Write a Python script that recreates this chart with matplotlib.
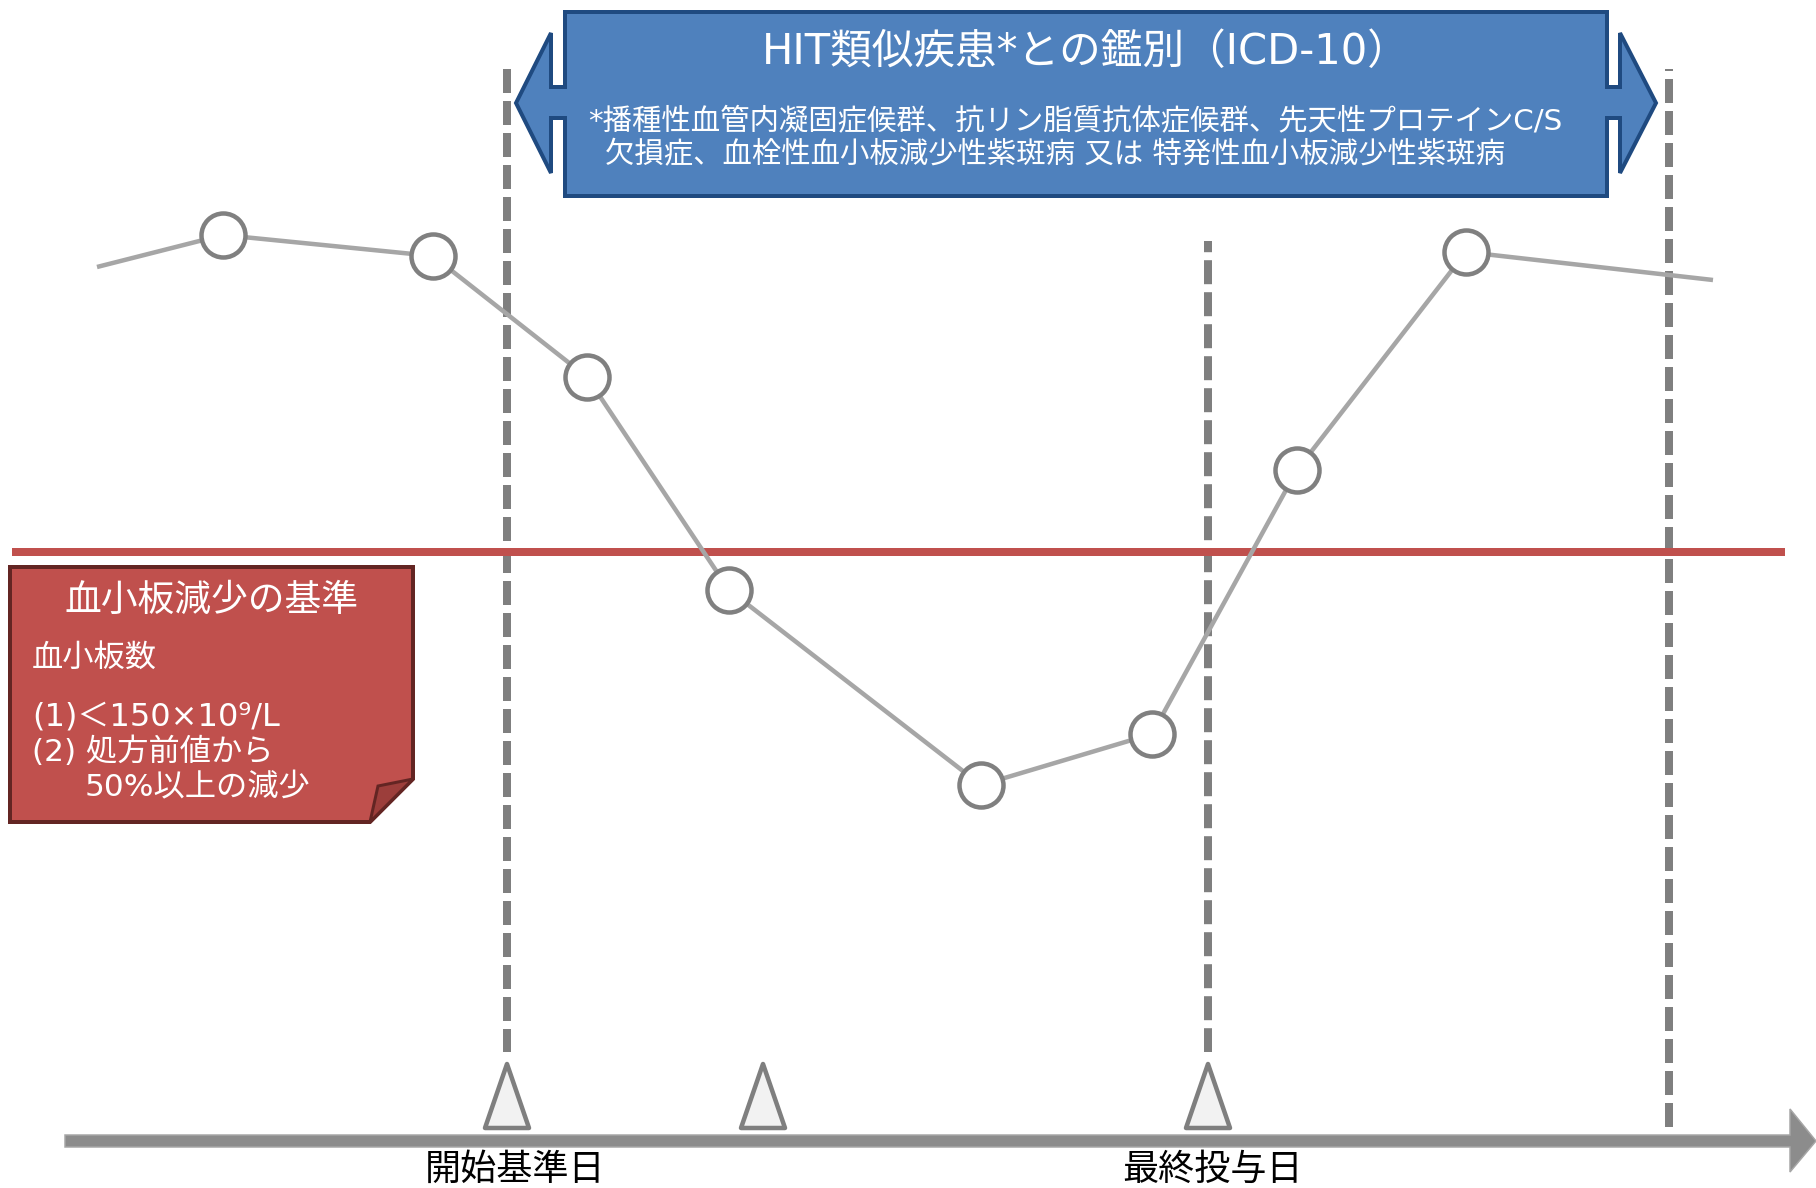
import matplotlib.pyplot as plt
from matplotlib.patches import Polygon

# Latin glyphs from DejaVu (wide, like the original), Japanese from Noto CJK
plt.rcParams['font.family'] = ['DejaVu Sans', 'Noto Sans CJK JP']

# canvas in pixel units (1816 x 1188), y downwards
W, H = 1816, 1188

# platelet course (x = time, y = level on the canvas)
line_x = [97, 223, 433, 587, 729, 981, 1152, 1297, 1466, 1713]
line_y = [267, 235, 256, 377, 590, 785, 734, 470, 252, 280]
marker_idx = [1, 2, 3, 4, 5, 6, 7, 8]

threshold_y = 552
threshold_x = [12, 1785]

# vertical dashed guides: x, top, bottom
guide_x = [507, 1208, 1669]
guide_top = [69, 241, 69]
guide_bottom = [1052, 1052, 1127]
guide_offset = [0, 1.6, 2.75]

# event triangles on the time axis
event_x = [507, 763, 1208]
axis_labels = ['開始基準日', '最終投与日']
axis_label_x = [515, 1213]

box_title = 'HIT類似疾患*との鑑別（ICD-10）'
box_lines = ['*播種性血管内凝固症候群、抗リン脂質抗体症候群、先天性プロテインC/S',
             '欠損症、血栓性血小板減少性紫斑病 又は 特発性血小板減少性紫斑病']

note_title = '血小板減少の基準'
note_lines = ['血小板数', '(1)＜150×10⁹/L', '(2) 処方前値から', '50%以上の減少']

PX = 0.72  # px -> pt at dpi 100

fig = plt.figure(figsize=(W / 100, H / 100), dpi=100)
ax = fig.add_axes([0, 0, 1, 1])
ax.set_xlim(0, W)
ax.set_ylim(H, 0)
ax.axis('off')

# dashed guides
for gx, gt, gb, off in zip(guide_x, guide_top, guide_bottom, guide_offset):
    ax.plot([gx, gx], [gt, gb], color='#7f7f7f', lw=8 * PX,
            linestyle=(off, (3, 1)), solid_capstyle='butt',
            dash_capstyle='butt', zorder=2)

# threshold line
ax.plot(threshold_x, [threshold_y, threshold_y], color='#c0504d',
        lw=8 * PX, solid_capstyle='butt', zorder=3)

# platelet curve
ax.plot(line_x, line_y, color='#a6a6a6', lw=4.5 * PX, zorder=4,
        solid_capstyle='butt')
ax.plot([line_x[i] for i in marker_idx], [line_y[i] for i in marker_idx],
        'o', ms=44 * PX, mfc='white', mec='#808080', mew=4.5 * PX, zorder=5)

# time axis arrow
axis_y = 1141
arrow = Polygon([(65, axis_y - 6), (1790, axis_y - 6), (1790, axis_y - 32),
                 (1816, axis_y), (1790, axis_y + 31), (1790, axis_y + 6),
                 (65, axis_y + 6)], closed=True, facecolor='#8c8c8c',
                edgecolor='#a6a6a6', lw=1.5 * PX, zorder=3)
ax.add_patch(arrow)

for ex in event_x:
    tri = Polygon([(ex - 22, 1128), (ex, 1064), (ex + 22, 1128)], closed=True,
                  facecolor='#f2f2f2', edgecolor='#7f7f7f', lw=4.5 * PX,
                  joinstyle='round', zorder=4)
    ax.add_patch(tri)

for lbl, lx in zip(axis_labels, axis_label_x):
    ax.text(lx, 1170, lbl, fontsize=26, ha='center', va='center',
            color='black', zorder=6)

# blue double-headed box
bl, br, bt, bb = 565, 1607, 12, 196
sh_t, sh_b = 87, 118
hl, hr = 551, 1620
head_t, head_b, mid = 33, 173, 103
blue = Polygon([(bl, bt), (br, bt), (br, sh_t), (hr, sh_t), (hr, head_t),
                (1656, mid), (hr, head_b), (hr, sh_b), (br, sh_b), (br, bb),
                (bl, bb), (bl, sh_b), (hl, sh_b), (hl, head_b), (516, mid),
                (hl, head_t), (hl, sh_t), (bl, sh_t)], closed=True,
               facecolor='#4f81bd', edgecolor='#1f4a80', lw=4 * PX,
               joinstyle='miter', zorder=6)
ax.add_patch(blue)
ax.text(1086, 52, box_title, fontsize=30, color='white', ha='center',
        va='center', zorder=7)
ax.text(588, 122, box_lines[0], fontsize=21.2, color='white', ha='left',
        va='center', zorder=7)
ax.text(605, 155, box_lines[1], fontsize=21.2, color='white', ha='left',
        va='center', zorder=7)

# red note with folded corner
nl, nr, nt, nb = 10, 413, 567, 822
cut_y, cut_x = 779, 370
note = Polygon([(nl, nt), (nr, nt), (nr, cut_y), (cut_x, nb), (nl, nb)],
               closed=True, facecolor='#c0504d', edgecolor='#632523',
               lw=4 * PX, joinstyle='miter', zorder=6)
ax.add_patch(note)
fold = Polygon([(nr, cut_y), (378, 786), (cut_x, nb)], closed=True,
               facecolor='#9c3e3b', edgecolor='#632523', lw=3 * PX,
               joinstyle='miter', zorder=7)
ax.add_patch(fold)

ax.text(211, 600, note_title, fontsize=26.5, color='white', ha='center',
        va='center', zorder=8)
ax.text(32, 658, note_lines[0], fontsize=22.5, color='white', ha='left',
        va='center', zorder=8)
ax.text(32, 717, note_lines[1], fontsize=23, color='white', ha='left',
        va='center', zorder=8)
ax.text(32, 752, note_lines[2], fontsize=22.5, color='white', ha='left',
        va='center', zorder=8)
ax.text(85, 788, note_lines[3], fontsize=22.5, color='white', ha='left',
        va='center', zorder=8)

fig.savefig('out.png', dpi=100, facecolor='white')
